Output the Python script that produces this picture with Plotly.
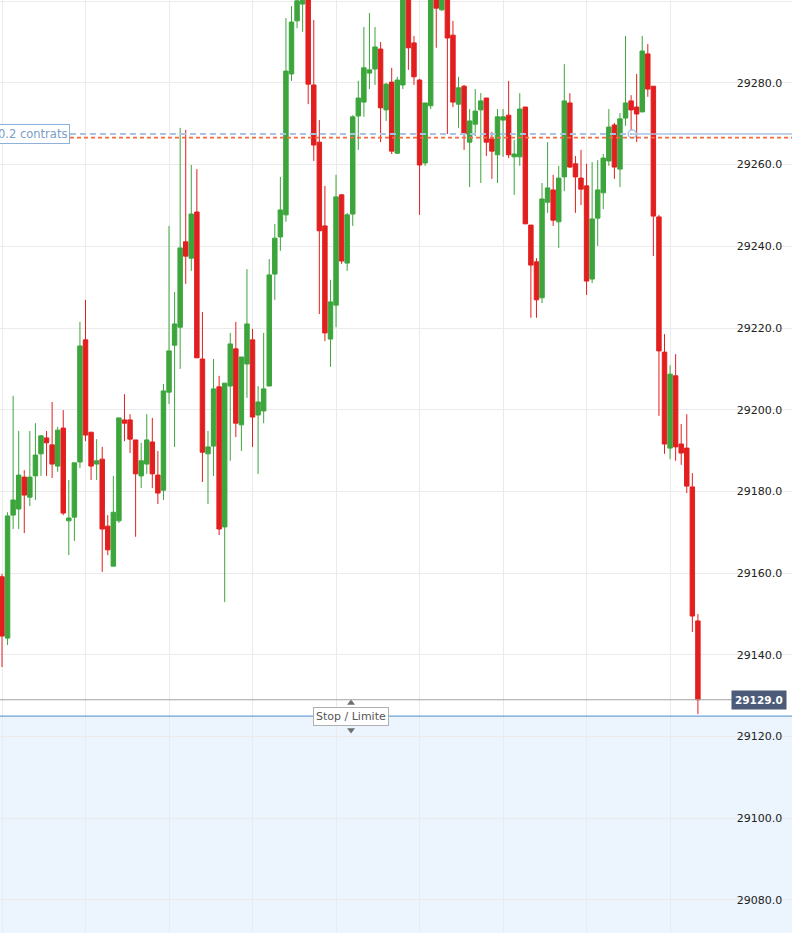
import plotly.graph_objects as go

# OHLC, one candle per slot (oldest first)
opens = [29159.1, 29144.1, 29174.2, 29175.7, 29183.5, 29178.6, 29183.8, 29189.2, 29193.1, 29191.4,
         29186.2, 29195.5, 29172.8, 29173.7, 29187.2, 29217.1, 29194.5, 29186.7, 29187.9, 29171.5,
         29161.7, 29172.8, 29197.5, 29197.5, 29192.6, 29183.8, 29186.7, 29192.1, 29184.0, 29180.3,
         29204.3, 29215.8, 29220.2, 29241.1, 29237.1, 29248.4, 29212.4, 29189.2, 29191.1, 29205.6,
         29171.3, 29205.8, 29214.9, 29196.3, 29211.2, 29217.1, 29198.7, 29199.7, 29205.8, 29233.2,
         29242.3, 29247.7, 29282.2, 29295.2, 29299.3, 29303.0, 29279.5, 29265.5, 29245.0, 29217.3,
         29225.6, 29252.6, 29235.9, 29247.9, 29271.9, 29275.3, 29282.4, 29283.4, 29288.3, 29273.4,
         29280.2, 29262.8, 29279.5, 29304.0, 29289.8, 29280.7, 29260.4, 29274.4, 29303.0, 29297.9,
         29301.0, 29291.7, 29274.8, 29279.2, 29265.5, 29269.9, 29273.4, 29276.3, 29266.3, 29262.4,
         29270.9, 29272.1, 29261.9, 29261.9, 29274.1, 29245.2, 29236.2, 29227.4, 29250.8, 29253.8,
         29246.0, 29257.0, 29275.1, 29260.2, 29256.7, 29254.8, 29232.0, 29246.9, 29253.1, 29260.9,
         29269.7, 29258.9, 29271.4, 29275.6, 29274.1, 29272.9, 29287.1, 29279.2, 29247.2, 29214.1,
         29190.6, 29208.3, 29191.6, 29190.6, 29181.1, 29148.3]
highs = [29159.8, 29174.9, 29203.4, 29194.8, 29185.2, 29194.8, 29196.7, 29193.8, 29194.8, 29201.9,
         29195.8, 29199.9, 29182.8, 29187.0, 29221.5, 29226.9, 29194.5, 29192.8, 29190.9, 29174.2,
         29183.8, 29198.0, 29203.8, 29198.9, 29192.6, 29191.9, 29198.9, 29198.0, 29189.9, 29206.3,
         29245.0, 29228.8, 29269.0, 29268.5, 29259.9, 29258.9, 29223.9, 29194.8, 29212.4, 29208.3,
         29206.5, 29218.8, 29221.5, 29212.9, 29234.4, 29219.8, 29205.8, 29218.8, 29236.9, 29245.5,
         29257.0, 29295.9, 29298.8, 29301.5, 29302.5, 29304.5, 29295.4, 29270.9, 29254.8, 29231.8,
         29257.5, 29252.8, 29248.2, 29272.1, 29280.5, 29293.7, 29297.1, 29293.7, 29290.0, 29280.0,
         29283.7, 29281.5, 29307.0, 29306.0, 29291.5, 29281.0, 29275.1, 29304.0, 29305.0, 29303.0,
         29302.0, 29295.2, 29281.5, 29279.5, 29273.6, 29278.5, 29277.5, 29276.3, 29268.0, 29273.6,
         29273.6, 29280.5, 29266.0, 29277.5, 29274.1, 29245.2, 29237.1, 29255.5, 29265.5, 29257.5,
         29259.7, 29284.6, 29277.5, 29262.1, 29263.6, 29260.2, 29260.6, 29261.1, 29262.6, 29273.6,
         29270.2, 29272.6, 29291.5, 29277.0, 29282.2, 29291.5, 29289.5, 29279.2, 29247.7, 29218.5,
         29210.9, 29213.6, 29196.5, 29198.9, 29184.5, 29150.0]
lows = [29137.0, 29142.4, 29170.8, 29170.8, 29169.8, 29176.4, 29177.9, 29183.8, 29183.8, 29183.3,
        29184.8, 29174.2, 29164.4, 29167.9, 29185.7, 29192.3, 29182.8, 29182.8, 29160.3, 29164.4,
        29161.7, 29172.3, 29192.3, 29189.4, 29168.9, 29180.8, 29184.3, 29180.8, 29176.9, 29177.9,
        29201.4, 29190.9, 29210.0, 29230.8, 29234.0, 29212.7, 29182.3, 29176.9, 29183.8, 29169.3,
        29152.9, 29187.5, 29193.3, 29189.9, 29202.9, 29190.9, 29184.3, 29196.7, 29205.8, 29226.9,
        29238.9, 29246.0, 29280.5, 29293.4, 29292.5, 29274.8, 29260.9, 29223.4, 29216.8, 29210.5,
        29220.2, 29235.7, 29234.0, 29245.0, 29263.6, 29271.7, 29278.5, 29279.5, 29265.5, 29270.7,
        29262.6, 29262.6, 29278.5, 29283.2, 29279.5, 29247.7, 29259.7, 29273.6, 29288.6, 29297.6,
        29267.5, 29274.1, 29269.0, 29263.6, 29254.5, 29267.0, 29255.5, 29262.1, 29256.5, 29255.5,
        29261.9, 29261.6, 29252.6, 29259.7, 29245.5, 29222.5, 29222.5, 29226.1, 29248.2, 29245.0,
        29239.6, 29253.5, 29259.2, 29248.2, 29250.1, 29228.1, 29231.0, 29240.1, 29249.1, 29259.7,
        29256.5, 29254.5, 29269.5, 29267.7, 29265.5, 29272.9, 29276.6, 29237.6, 29198.5, 29189.2,
        29187.9, 29187.5, 29186.5, 29179.6, 29145.6, 29125.5]
closes = [29144.6, 29174.0, 29177.9, 29184.0, 29179.1, 29183.5, 29188.9, 29193.6, 29191.9, 29186.7,
          29195.0, 29174.7, 29173.5, 29187.0, 29215.6, 29193.8, 29186.2, 29187.5, 29170.8, 29165.7,
          29174.9, 29198.0, 29196.7, 29192.8, 29184.3, 29187.5, 29192.6, 29184.3, 29179.6, 29204.6,
          29214.4, 29221.0, 29239.6, 29237.6, 29247.9, 29212.7, 29189.6, 29190.9, 29205.1, 29170.8,
          29206.5, 29216.1, 29196.7, 29212.9, 29221.0, 29198.2, 29201.9, 29205.1, 29233.0, 29242.0,
          29248.9, 29282.9, 29294.9, 29300.1, 29301.0, 29279.7, 29264.8, 29243.8, 29218.8, 29226.4,
          29252.1, 29236.4, 29247.7, 29271.7, 29276.3, 29283.7, 29283.2, 29288.8, 29273.9, 29279.7,
          29263.3, 29280.7, 29305.0, 29288.6, 29281.5, 29259.9, 29275.1, 29302.0, 29298.3, 29301.5,
          29291.0, 29275.3, 29278.8, 29267.5, 29270.7, 29273.1, 29275.6, 29265.5, 29263.3, 29271.7,
          29271.7, 29262.4, 29262.6, 29273.6, 29245.5, 29235.4, 29226.9, 29251.6, 29254.3, 29246.4,
          29256.7, 29275.6, 29259.4, 29257.0, 29254.0, 29231.5, 29246.7, 29253.8, 29261.6, 29269.2,
          29259.4, 29271.2, 29275.1, 29273.4, 29272.4, 29287.8, 29278.5, 29247.4, 29214.4, 29191.6,
          29208.7, 29190.9, 29189.4, 29181.3, 29149.5, 29129.0]

candle_idx = list(range(len(opens)))
grid_idx = list(range(0, 136, 15))
price_ticks = list(range(29080, 29301, 20))

order_level = 29267.5   # blue dashed order line
entry_level = 29266.6   # orange dashed line
last_price = 29129.0
stop_level = 29125.0
order_label = "0.2 contrats"
stop_label = "Stop / Limite"

GREEN = "#3ca53c"
RED = "#e21f1f"

fig = go.Figure()

fig.add_trace(go.Candlestick(
    x=candle_idx, open=opens, high=highs, low=lows, close=closes,
    increasing=dict(line=dict(color=GREEN, width=1), fillcolor=GREEN),
    decreasing=dict(line=dict(color=RED, width=1), fillcolor=RED),
    whiskerwidth=0,
    hoverinfo="skip",
    showlegend=False,
))

x_lo, x_hi = -0.36, 141.9
y_lo, y_hi = 29071.9, 29300.3

shapes = [
    # shaded zone under the stop level
    dict(type="rect", xref="paper", yref="y", x0=0, x1=1, y0=y_lo, y1=stop_level,
         fillcolor="#ecf5fe", line=dict(width=0), layer="below"),
    dict(type="line", xref="paper", yref="y", x0=0, x1=1, y0=stop_level, y1=stop_level,
         line=dict(color="#4a8ccc", width=1)),
    # last price line
    dict(type="line", xref="paper", yref="y", x0=0, x1=0.928, y0=last_price, y1=last_price,
         line=dict(color="#a3a3a3", width=1)),
    # order lines
    dict(type="line", xref="paper", yref="y", x0=0, x1=1, y0=entry_level, y1=entry_level,
         line=dict(color="#f26b45", width=1.6, dash="4px,3px")),
    dict(type="line", xref="x", yref="y", x0=12.2, x1=113.2, y0=order_level, y1=order_level,
         line=dict(color="#a9c4e2", width=1.8, dash="6px,4px")),
    dict(type="line", xref="x", yref="y", x0=113.2, x1=x_hi, y0=order_level, y1=order_level,
         line=dict(color="#a9c4e2", width=1.5)),
]
fig.update_layout(shapes=shapes)

# small hollow handle on the order line
fig.add_trace(go.Scatter(
    x=[113.2], y=[order_level], mode="markers",
    marker=dict(size=8, color="white", line=dict(color="#aac4e0", width=1.5)),
    hoverinfo="skip", showlegend=False,
))
# arrows of the stop/limit handle
fig.add_trace(go.Scatter(
    x=[62.7, 62.7], y=[stop_level + 3.2, stop_level - 3.4], mode="markers",
    marker=dict(symbol=["triangle-up", "triangle-down"], size=7, color="#6f6f6f"),
    hoverinfo="skip", showlegend=False,
))

annotations = [
    dict(xref="paper", yref="y", x=-0.006, y=order_level, text=order_label,
         xanchor="left", yanchor="middle", showarrow=False,
         font=dict(family="DejaVu Sans", size=11.5, color="#7b9dc6"),
         bgcolor="white", bordercolor="#8eb1d8", borderwidth=1, borderpad=2),
    dict(xref="x", yref="y", x=62.7, y=stop_level, text=stop_label,
         xanchor="center", yanchor="middle", showarrow=False,
         font=dict(family="DejaVu Sans", size=11, color="#555555"),
         bgcolor="white", bordercolor="#b0b0b0", borderwidth=1, borderpad=2),
    dict(xref="paper", yref="y", x=1, y=last_price, text="<b>29129.0</b>",
         xanchor="right", yanchor="middle", xshift=-5, showarrow=False,
         font=dict(family="DejaVu Sans", size=10.5, color="white"),
         bgcolor="#4b5b78", borderpad=3),
]
fig.update_layout(annotations=annotations)

fig.update_layout(
    width=792, height=933,
    margin=dict(l=0, r=0, t=0, b=0),
    paper_bgcolor="white", plot_bgcolor="white",
    showlegend=False,
    boxgap=0.2, boxgroupgap=0,
    xaxis=dict(range=[x_lo, x_hi], tickvals=grid_idx, showticklabels=False,
               showgrid=True, gridcolor="#ebebeb", gridwidth=1, zeroline=False,
               rangeslider=dict(visible=False), fixedrange=True),
    yaxis=dict(range=[y_lo, y_hi], side="right", tickvals=price_ticks,
               ticktext=[f"{p:.1f}" for p in price_ticks],
               ticklabelposition="inside", ticks="inside", ticklen=9,
               tickcolor="rgba(0,0,0,0)",
               tickfont=dict(family="DejaVu Sans", size=11, color="#222222"),
               showgrid=True, gridcolor="#ebebeb", gridwidth=1, zeroline=False),
)

# the page's default body margin would push the chart 8px off the window
fig.write_html("out.html", config={"displayModeBar": False},
               post_script="document.body.style.margin='0';")
